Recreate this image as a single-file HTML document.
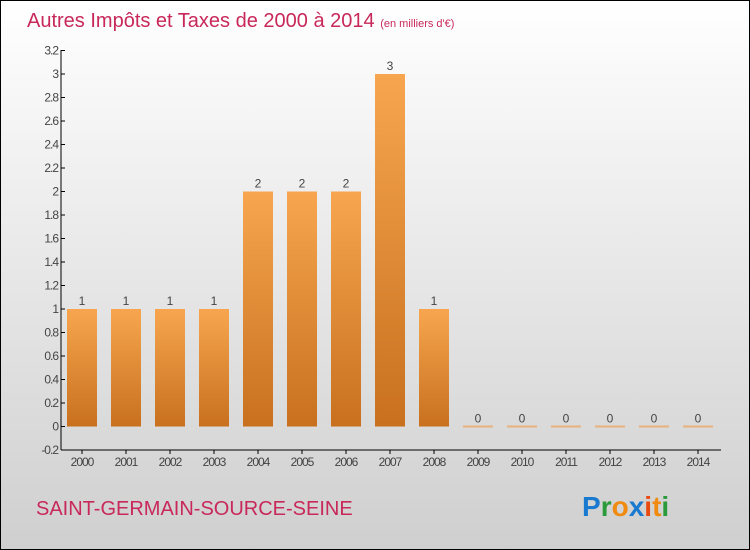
<!DOCTYPE html>
<html><head><meta charset="utf-8"><style>
body{margin:0;width:750px;height:550px;overflow:hidden}
#c{position:absolute;left:0;top:0;width:748px;height:548px;border:1px solid #000;background:linear-gradient(#fff,#cfcfcf)}
text{font-family:"Liberation Sans",sans-serif}
</style></head><body>
<div id="c">
<svg id="s" width="750" height="550" style="position:absolute;left:-1px;top:-1px">
<defs><linearGradient id="g" x1="0" y1="0" x2="0" y2="1"><stop offset="0" stop-color="#f7a64f"/><stop offset="1" stop-color="#c8701e"/></linearGradient></defs>
<text x="27" y="27" font-size="20" fill="#c8285a">Autres Impôts et Taxes de 2000 à 2014 <tspan font-size="11">(en milliers d'€)</tspan></text>
<text x="36" y="515" font-size="20" fill="#c8285a">SAINT-GERMAIN-SOURCE-SEINE</text>
<g font-size="28" font-weight="bold"><text x="582" y="516"><tspan fill="#1a7ad0">P</tspan><tspan fill="#2a9a3a">r</tspan><tspan fill="#f08a10">o</tspan><tspan fill="#1a7ad0">x</tspan><tspan fill="#e84a10">i</tspan><tspan fill="#f08a10">t</tspan><tspan fill="#2a9a3a">i</tspan></text></g>
<g id="axes"></g><g id="bars"></g>
</svg></div>
<script>
const categories=["2000","2001","2002","2003","2004","2005","2006","2007","2008","2009","2010","2011","2012","2013","2014"];
const values=[1,1,1,1,2,2,2,3,1,0,0,0,0,0,0];
const labels=["1","1","1","1","2","2","2","3","1","0","0","0","0","0","0"];
const yTicks=["-0.2","0","0.2","0.4","0.6","0.8","1","1.2","1.4","1.6","1.8","2","2.2","2.4","2.6","2.8","3","3.2"];
const NS="http://www.w3.org/2000/svg";
const y=v=>426.5-v*117.5;
const x=i=>82+i*44;
const ax=document.getElementById('axes'),bg=document.getElementById('bars');
function mk(t,a,p){const e=document.createElementNS(NS,t);for(const k in a)e.setAttribute(k,a[k]);p.appendChild(e);return e;}
const yl=mk('line',{x1:61,y1:50,x2:61,y2:450,stroke:'#000'},ax);


const xl=mk('line',{x1:61,y1:450,x2:721,y2:450,stroke:'#000'},ax);


yTicks.forEach(t=>{const yy=y(parseFloat(t));
mk('line',{x1:61,y1:yy,x2:65,y2:yy,stroke:'#000'},ax);
const tx=mk('text',{x:58,y:yy+4,'font-size':12,fill:'#444','text-anchor':'end','letter-spacing':'-1'},ax);


tx.textContent=t;});
categories.forEach((c,i)=>{const cx=x(i);
mk('line',{x1:cx,y1:450,x2:cx,y2:454,stroke:'#000'},ax);
const tx=mk('text',{x:cx,y:466,'font-size':12,fill:'#444','text-anchor':'middle','letter-spacing':'-1'},ax);


tx.textContent=c;
const v=values[i];const top=y(v);const h=Math.max(y(0)-top,2);
const r=mk('rect',{x:cx-15,y:v>0?top:y(0)-1,width:30,height:h,fill:v>0?'url(#g)':'#e8b07a'},bg);


const lb=mk('text',{x:cx,y:(v>0?top:y(0))-4,'font-size':12,fill:'#444','text-anchor':'middle'},bg);


lb.textContent=labels[i];});
</script>
</body></html>
